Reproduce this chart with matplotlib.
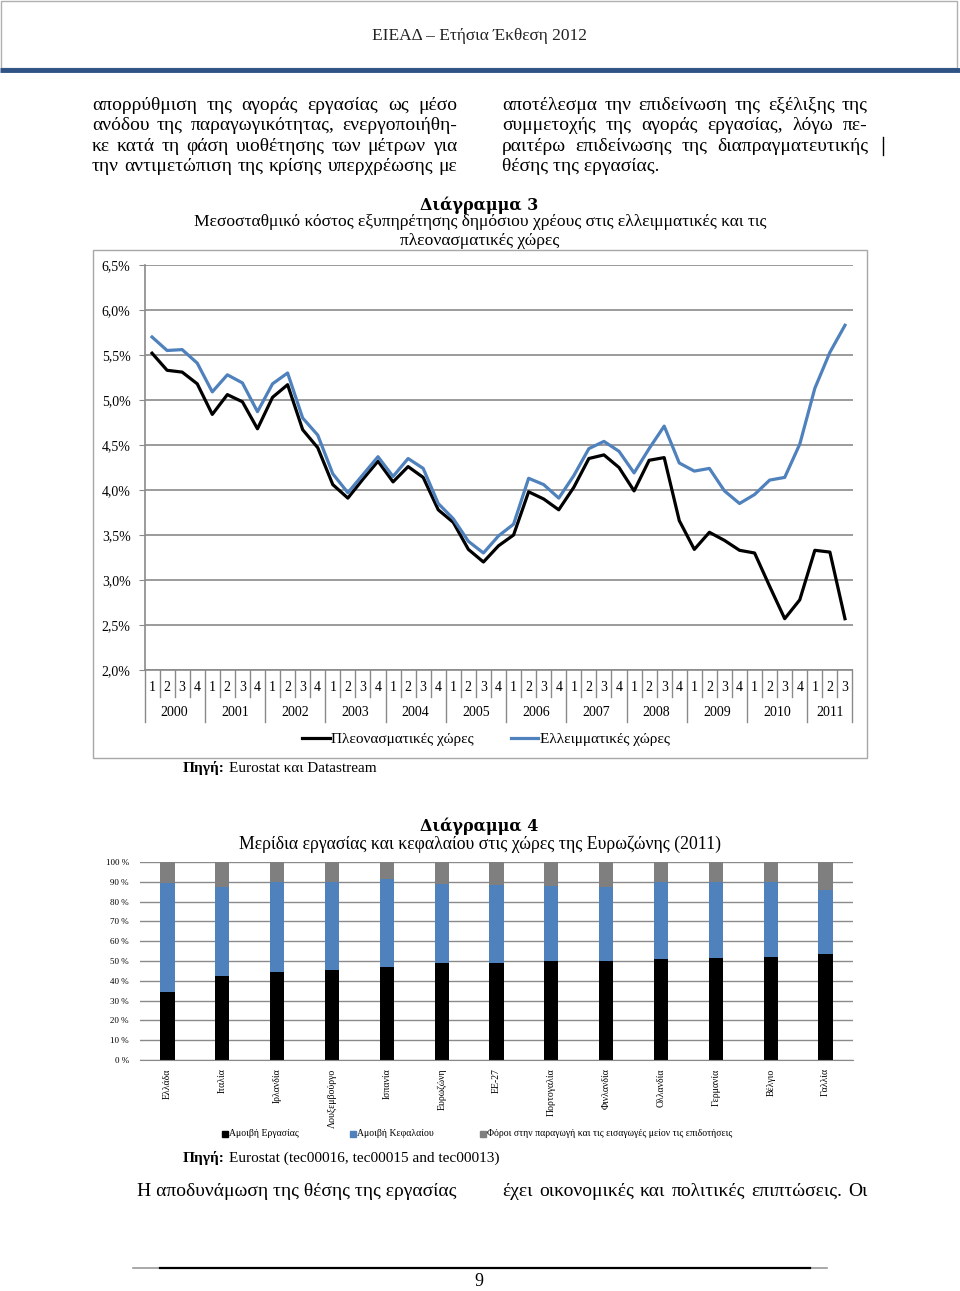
import numpy as np
import matplotlib
matplotlib.use("Agg")
import matplotlib.pyplot as plt
import matplotlib.transforms as mtransforms
from matplotlib.patches import Rectangle

W, H = 960, 1291

# Diagram 3: quarterly average debt-service cost (%)
years = ['2000', '2001', '2002', '2003', '2004', '2005', '2006',
         '2007', '2008', '2009', '2010', '2011']
quarters = ['1', '2', '3', '4'] * 11 + ['1', '2', '3']
surplus = [5.52, 5.33, 5.31, 5.18, 4.84, 5.06, 4.98, 4.68, 5.03, 5.17,
           4.67, 4.47, 4.06, 3.91, 4.12, 4.32, 4.09, 4.26, 4.14, 3.78,
           3.64, 3.34, 3.20, 3.38, 3.50, 3.98, 3.90, 3.78, 4.03, 4.35,
           4.39, 4.25, 3.99, 4.33, 4.36, 3.66, 3.34, 3.53, 3.44, 3.33,
           3.30, 2.93, 2.57, 2.78, 3.33, 3.31, 2.57]
deficit = [5.70, 5.55, 5.56, 5.41, 5.09, 5.28, 5.19, 4.87, 5.18, 5.30,
           4.80, 4.61, 4.18, 3.97, 4.17, 4.37, 4.15, 4.35, 4.24, 3.85,
           3.68, 3.43, 3.30, 3.49, 3.62, 4.13, 4.06, 3.91, 4.16, 4.46,
           4.54, 4.43, 4.19, 4.46, 4.71, 4.30, 4.21, 4.24, 3.99, 3.85,
           3.95, 4.11, 4.14, 4.51, 5.13, 5.53, 5.83]
series_names = ['Πλεονασματικές χώρες', 'Ελλειμματικές χώρες']

# Diagram 4: labour / capital shares 2011 (%)
countries = ['Ελλάδα', 'Ιταλία', 'Ιρλανδία', 'Λουξεμβούργο', 'Ισπανία',
             'Ευρωζώνη', 'ΕΕ-27', 'Πορτογαλία', 'Φινλανδία', 'Ολλανδία',
             'Γερμανία', 'Βέλγιο', 'Γαλλία']
labour = [34.1, 42.3, 44.5, 45.5, 46.8, 49.0, 49.2, 50.0, 50.0, 50.8, 51.3, 51.8, 53.7]
capital = [55.3, 45.1, 45.4, 44.2, 44.6, 39.9, 39.1, 37.8, 37.4, 39.0, 38.5, 38.0, 32.4]
taxes = [10.6, 12.6, 10.1, 10.3, 8.6, 11.1, 11.7, 12.2, 12.6, 10.2, 10.2, 10.2, 13.9]
share_names = ['Αμοιβή Εργασίας', 'Αμοιβή Κεφαλαίου',
               'Φόροι στην παραγωγή και τις εισαγωγές μείον τις επιδοτήσεις']

BLUE = '#4f81bd'
GRID = '#8a8a8a'
SERIF = 'Liberation Serif'

fig = plt.figure(figsize=(W / 100, H / 100), dpi=100)
page = fig.add_axes([0, 0, 1, 1])
page.set_xlim(0, W)
page.set_ylim(H, 0)
page.axis('off')
renderer = fig.canvas.get_renderer()


def box(x, y, w, h):
    return [x / W, 1 - (y + h) / H, w / W, h / H]


def width(t):
    return t.get_window_extent(renderer).width


def line(words, x0, x1, y, size=14, justify=True):
    if not justify:
        page.text(x0, y, words, fontsize=size, family=SERIF, va='center')
        return
    ws = words.split()
    txts = [page.text(0, y, w, fontsize=size, family=SERIF, va='center') for w in ws]
    widths = [width(t) for t in txts]
    gap = (x1 - x0 - sum(widths)) / (len(ws) - 1)
    x = x0
    for t, w in zip(txts, widths):
        t.set_x(x)
        x += w + gap


def source(y, rest):
    t = page.text(183, y, 'Πηγή:', fontsize=11, family=SERIF, weight='bold', va='center')
    page.text(183 + width(t) + 4, y, rest, fontsize=11, family=SERIF, va='center')


# header
page.add_patch(Rectangle((1, 1), W - 4, 67, fill=False, ec='#b0b0b0', lw=1))
page.plot([0, W], [70, 70], color='#2f5384', lw=3.5, solid_capstyle='butt')
page.text(479, 36, 'ΕΙΕΑΔ – Ετήσια Έκθεση 2012', fontsize=12.5, family=SERIF,
          ha='center', va='center', color='#222222')

# body text
left_col = ['απορρύθμιση της αγοράς εργασίας ως μέσο',
            'ανόδου της παραγωγικότητας, ενεργοποιήθη-',
            'κε κατά τη φάση υιοθέτησης των μέτρων για',
            'την αντιμετώπιση της κρίσης υπερχρέωσης με']
right_col = ['αποτέλεσμα την επιδείνωση της εξέλιξης της',
             'συμμετοχής της αγοράς εργασίας, λόγω πε-',
             'ραιτέρω επιδείνωσης της διαπραγματευτικής',
             'θέσης της εργασίας.']
for i, s in enumerate(left_col):
    line(s, 92, 457, 105 + i * 20.6)
for i, s in enumerate(right_col):
    line(s, 502, 868, 105 + i * 20.6, justify=i < 3)
page.plot([883, 883], [137, 155], color='black', lw=1)

# ---------------- Diagram 3 ----------------
page.add_patch(Rectangle((93, 250), 774, 508, fill=False, ec='#a8a8a8', lw=1))
page.text(479, 205, 'Διάγραμμα 3', fontsize=11.5, family='DejaVu Serif',
          weight='bold', ha='center', va='center')
page.text(480, 222, 'Μεσοσταθμικό κόστος εξυπηρέτησης δημόσιου χρέους στις ελλειμματικές και τις',
          fontsize=12.6, family=SERIF, ha='center', va='center')
page.text(480, 241, 'πλεονασματικές χώρες', fontsize=12.6, family=SERIF,
          ha='center', va='center')

ax1 = fig.add_axes(box(144.5, 265, 708, 405))
x = np.arange(len(surplus))
l1, = ax1.plot(x, surplus, color='black', lw=2.3, label=series_names[0])
l2, = ax1.plot(x, deficit, color=BLUE, lw=2.3, label=series_names[1])
ax1.set_xlim(-0.5, len(surplus) - 0.5)
ax1.set_ylim(2.0, 6.5)
yt = np.arange(2.0, 6.51, 0.5)
ax1.set_yticks(yt)
ax1.set_yticklabels([('%.1f%%' % v).replace('.', ',') for v in yt],
                    family=SERIF, fontsize=10)
ax1.tick_params(axis='y', length=4, color=GRID, pad=6)
ax1.set_xticks([])
ax1.grid(axis='y', color=GRID, lw=1.2)
ax1.set_axisbelow(True)
for s in ['top', 'right']:
    ax1.spines[s].set_visible(False)
for s in ['left', 'bottom']:
    ax1.spines[s].set_color(GRID)
    ax1.spines[s].set_linewidth(1.2)

trans = mtransforms.blended_transform_factory(ax1.transData, ax1.transAxes)
for i, q in enumerate(quarters):
    ax1.text(i, -0.042, q, transform=trans, ha='center', va='center',
             fontsize=10, family=SERIF)
for k, yr in enumerate(years):
    n = quarters[4 * k:4 * k + 4]
    ax1.text(4 * k + (len(n) - 1) / 2, -0.104, yr, transform=trans,
             ha='center', va='center', fontsize=10, family=SERIF)
for b in np.arange(-0.5, len(quarters), 1.0):
    is_year = (b + 0.5) % 4 == 0 or b == len(quarters) - 0.5
    ax1.plot([b, b], [0, -0.128 if is_year else -0.067], transform=trans,
             color=GRID, lw=1, clip_on=False)

fig.legend(handles=[l1, l2], loc='center', bbox_to_anchor=(486 / W, 1 - 739 / H),
           ncol=2, frameon=False, prop={'family': SERIF, 'size': 11},
           handlelength=1.8, handletextpad=0.1, columnspacing=2.4)

source(768, 'Eurostat και Datastream')

# ---------------- Diagram 4 ----------------
page.text(479, 826, 'Διάγραμμα 4', fontsize=11.5, family='DejaVu Serif',
          weight='bold', ha='center', va='center')
page.text(480, 844, 'Μερίδια εργασίας και κεφαλαίου στις χώρες της Ευρωζώνης (2011)',
          fontsize=12.8, family=SERIF, ha='center', va='center')

ax2 = fig.add_axes(box(140, 862, 713, 198))
xc = np.arange(len(countries))
bw = 0.26
ax2.bar(xc, labour, bw, color='black')
ax2.bar(xc, capital, bw, bottom=labour, color=BLUE)
ax2.bar(xc, taxes, bw, bottom=np.array(labour) + np.array(capital), color='#7f7f7f')
ax2.set_xlim(-0.5, len(countries) - 0.5)
ax2.set_ylim(0, 100)
ax2.set_yticks(np.arange(0, 101, 10))
ax2.set_yticklabels(['%d %%' % v for v in range(0, 101, 10)], family=SERIF, fontsize=6.5)
ax2.tick_params(axis='y', length=0, pad=8)
ax2.set_xticks(xc)
ax2.set_xticklabels(countries, rotation=90, family=SERIF, fontsize=7, va='top')
ax2.tick_params(axis='x', length=0, pad=6)
ax2.grid(axis='y', color=GRID, lw=1)
ax2.set_axisbelow(True)
for s in ['top', 'right', 'left']:
    ax2.spines[s].set_visible(False)
ax2.spines['bottom'].set_color(GRID)

for xs, col, name in zip([222, 350, 480], ['black', BLUE, '#7f7f7f'], share_names):
    page.plot([xs + 3], [1134], marker='s', ms=4, color=col, ls='none')
    page.text(xs + 7, 1134, name, fontsize=7, family=SERIF, va='center')

source(1158, 'Eurostat (tec00016, tec00015 and tec00013)')

# bottom text + footer
line('Η αποδυνάμωση της θέσης της εργασίας', 137, 457, 1191, justify=False)
line('έχει οικονομικές και πολιτικές επιπτώσεις. Οι', 502, 868, 1191)
page.plot([133, 827], [1268, 1268], color='#9a9a9a', lw=1.2)
page.plot([160, 810], [1268, 1268], color='black', lw=1.6)
page.text(479, 1282, '9', fontsize=13, family=SERIF, ha='center', va='center')

fig.savefig('out.png', dpi=100)
